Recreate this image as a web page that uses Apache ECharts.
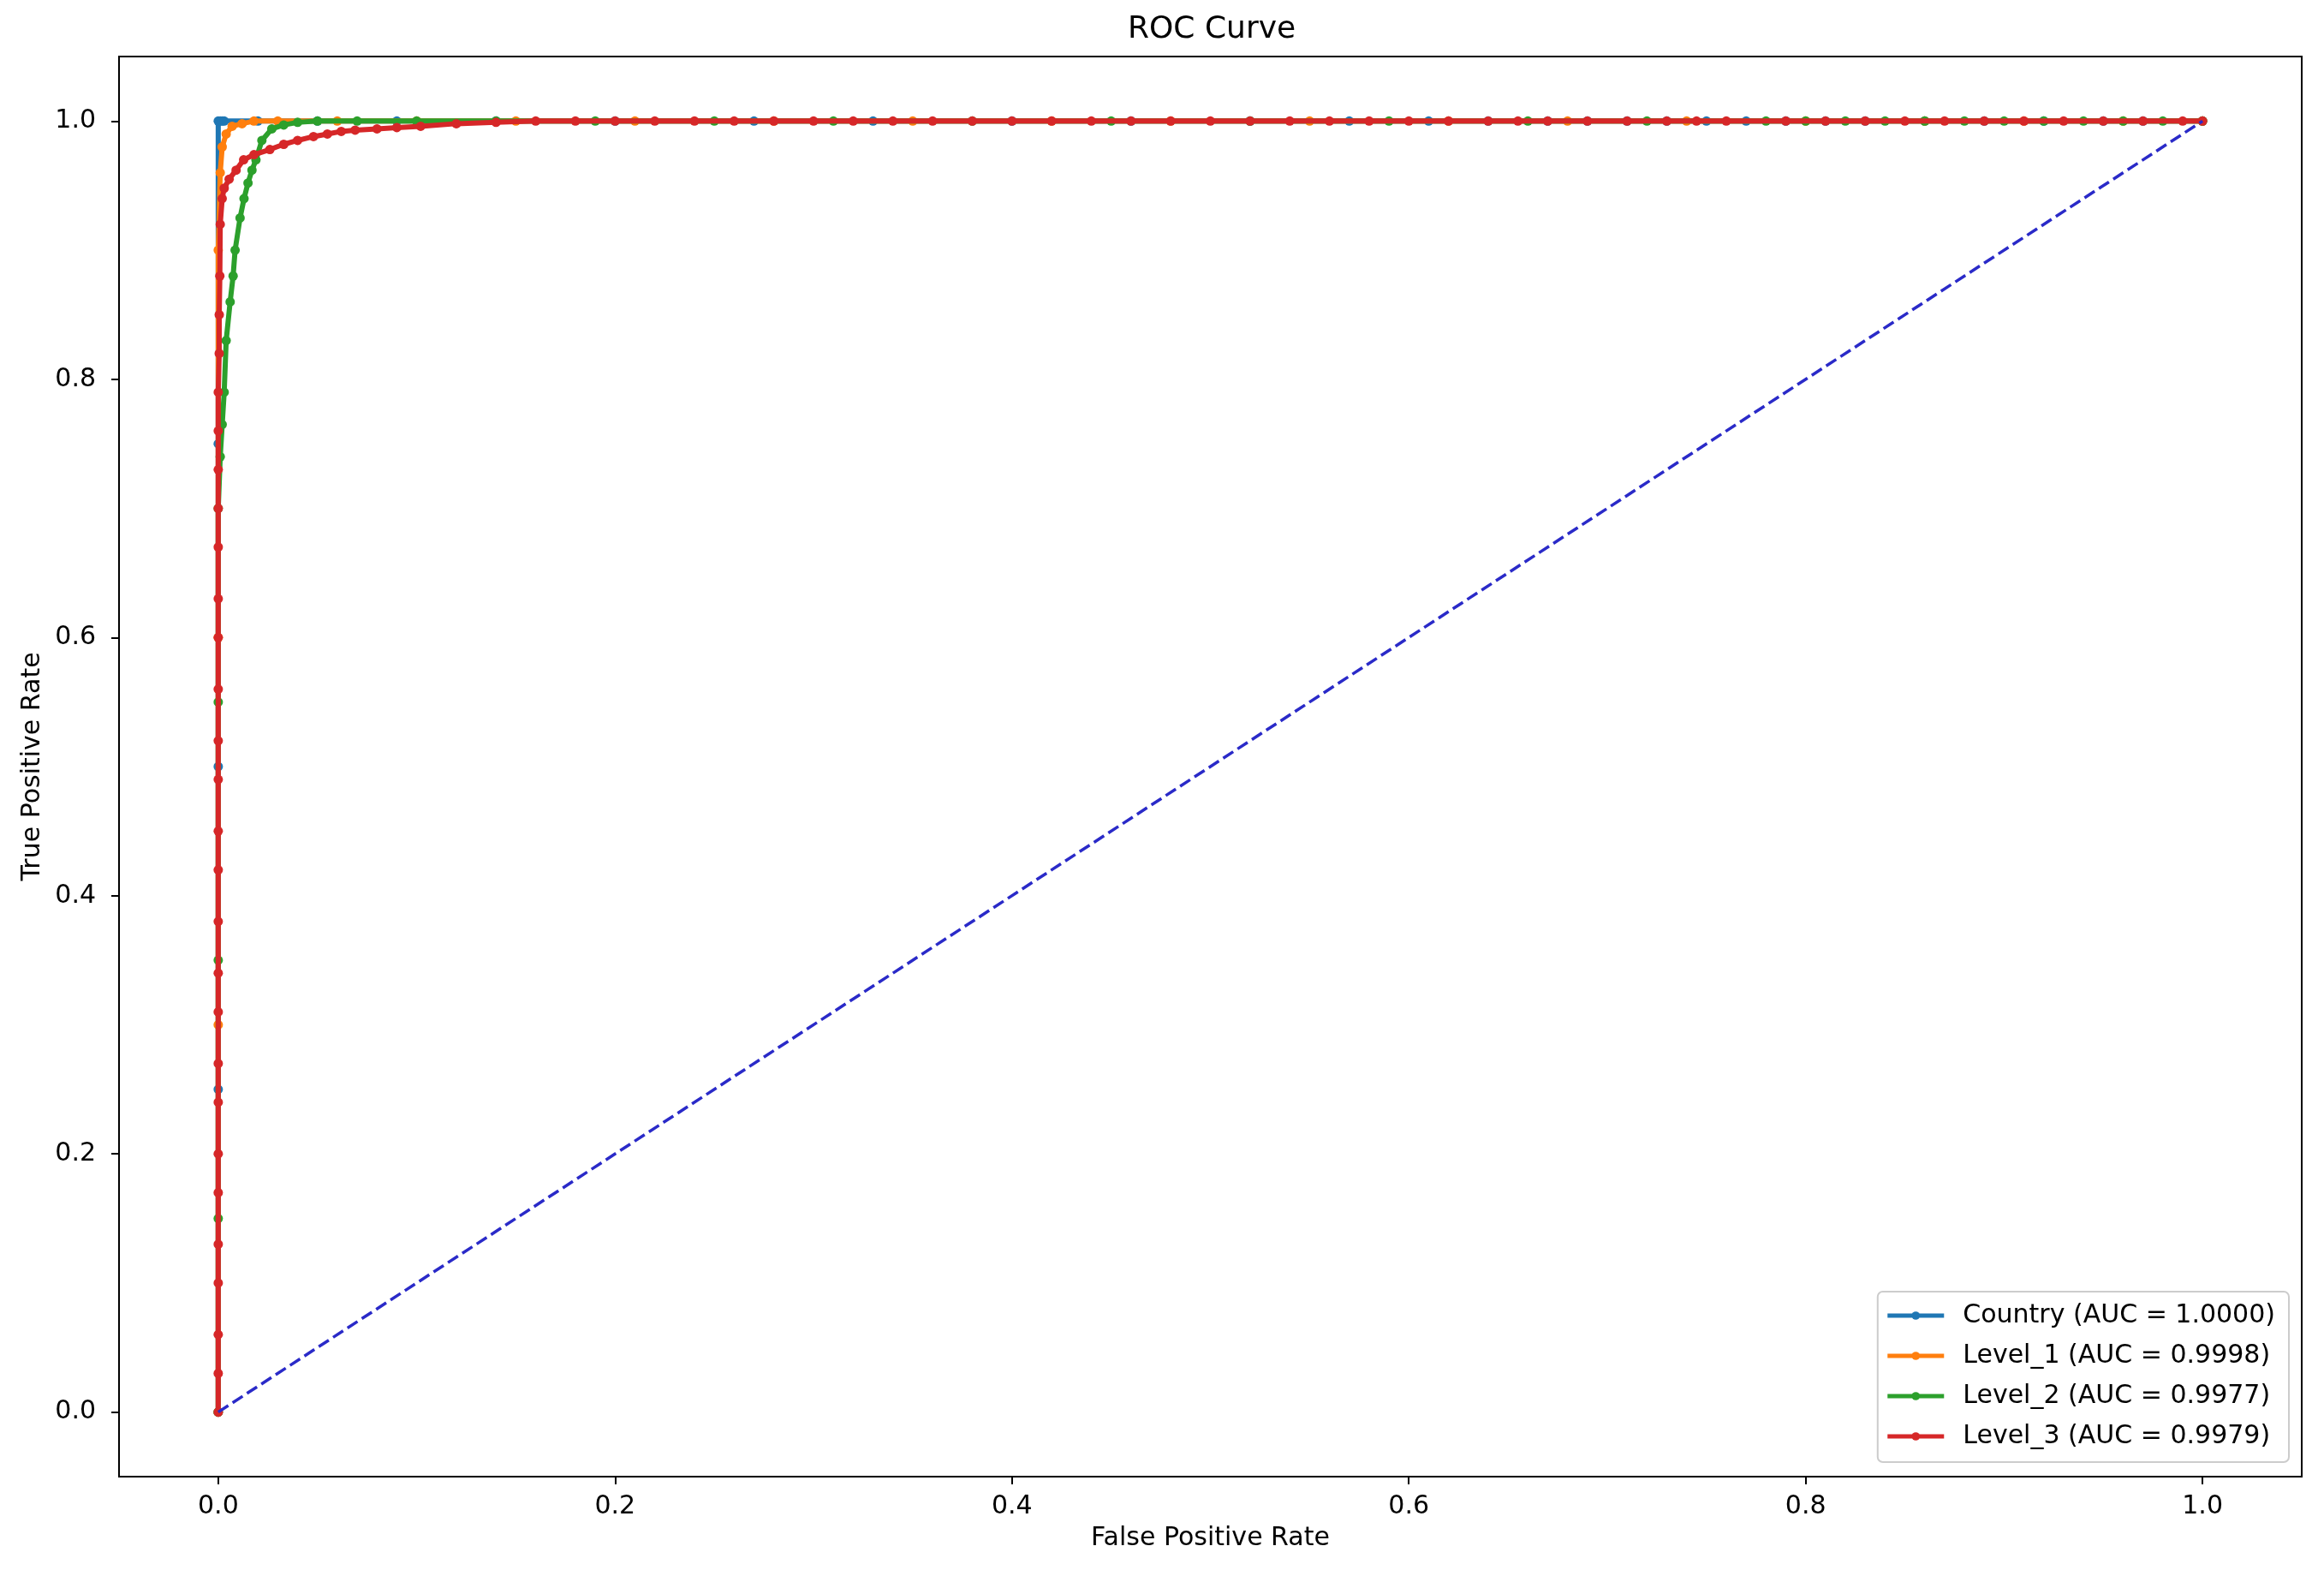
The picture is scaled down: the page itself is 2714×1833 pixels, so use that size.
<!DOCTYPE html>
<html>
<head>
<meta charset="utf-8">
<script src="https://cdn.jsdelivr.net/npm/echarts@6/dist/echarts.min.js"></script>
<style>
  html, body { margin: 0; padding: 0; background: #fff; }
  #chart { width: 2714px; height: 1833px; }
</style>
</head>
<body>
<div id="chart"></div>
<script>
// ROC points (FPR, TPR)
const countryFpr = [0, 0, 0, 0, 0, 0.001, 0.002, 0.003, 0.02, 0.05, 0.09, 0.14, 0.2, 0.27, 0.33, 0.4, 0.46, 0.52, 0.57, 0.61, 0.64, 0.67, 0.69, 0.71, 0.73, 0.75, 0.77, 0.79, 0.81, 0.83, 0.86, 0.89, 0.92, 0.95, 0.97, 1.0];
const countryTpr = [0, 0.25, 0.5, 0.75, 1.0, 1.0, 1.0, 1.0, 1.0, 1.0, 1.0, 1.0, 1.0, 1.0, 1.0, 1.0, 1.0, 1.0, 1.0, 1.0, 1.0, 1.0, 1.0, 1.0, 1.0, 1.0, 1.0, 1.0, 1.0, 1.0, 1.0, 1.0, 1.0, 1.0, 1.0, 1.0];

const level1Fpr = [0, 0, 0, 0, 0.001, 0.002, 0.004, 0.007, 0.012, 0.018, 0.03, 0.06, 0.1, 0.15, 0.21, 0.28, 0.35, 0.42, 0.48, 0.55, 0.62, 0.68, 0.74, 0.8, 0.86, 0.91, 0.96, 1.0];
const level1Tpr = [0, 0.3, 0.6, 0.9, 0.96, 0.98, 0.99, 0.996, 0.998, 1.0, 1.0, 1.0, 1.0, 1.0, 1.0, 1.0, 1.0, 1.0, 1.0, 1.0, 1.0, 1.0, 1.0, 1.0, 1.0, 1.0, 1.0, 1.0];

const level2Fpr = [0, 0, 0, 0, 0, 0.001, 0.002, 0.003, 0.004, 0.006, 0.0075, 0.0085, 0.011, 0.013, 0.015, 0.017, 0.019, 0.022, 0.027, 0.033, 0.04, 0.05, 0.07, 0.1, 0.14, 0.19, 0.25, 0.31, 0.38, 0.45, 0.52, 0.59, 0.66, 0.72, 0.78, 0.8, 0.82, 0.84, 0.86, 0.88, 0.9, 0.92, 0.94, 0.96, 0.98, 1.0];
const level2Tpr = [0, 0.15, 0.35, 0.55, 0.7, 0.74, 0.765, 0.79, 0.83, 0.86, 0.88, 0.9, 0.925, 0.94, 0.952, 0.962, 0.97, 0.985, 0.994, 0.997, 0.999, 1.0, 1.0, 1.0, 1.0, 1.0, 1.0, 1.0, 1.0, 1.0, 1.0, 1.0, 1.0, 1.0, 1.0, 1.0, 1.0, 1.0, 1.0, 1.0, 1.0, 1.0, 1.0, 1.0, 1.0, 1.0];

const level3Fpr = [0, 0, 0, 0, 0, 0, 0, 0, 0, 0, 0, 0, 0, 0, 0, 0, 0, 0, 0, 0, 0, 0, 0, 0, 0.0005, 0.0005, 0.0008, 0.001, 0.002, 0.003, 0.0055, 0.009, 0.0128, 0.018, 0.026, 0.033, 0.04, 0.048, 0.055, 0.062, 0.069, 0.08, 0.09, 0.102, 0.12, 0.14, 0.16, 0.18, 0.2, 0.22, 0.24, 0.26, 0.28, 0.3, 0.32, 0.34, 0.36, 0.38, 0.4, 0.42, 0.44, 0.46, 0.48, 0.5, 0.52, 0.54, 0.56, 0.58, 0.6, 0.62, 0.64, 0.655, 0.67, 0.69, 0.71, 0.73, 0.745, 0.76, 0.79, 0.81, 0.83, 0.85, 0.87, 0.89, 0.91, 0.93, 0.95, 0.97, 0.99, 1.0];
const level3Tpr = [0, 0.03, 0.06, 0.1, 0.13, 0.17, 0.2, 0.24, 0.27, 0.31, 0.34, 0.38, 0.42, 0.45, 0.49, 0.52, 0.56, 0.6, 0.63, 0.67, 0.7, 0.73, 0.76, 0.79, 0.82, 0.85, 0.88, 0.92, 0.94, 0.948, 0.955, 0.962, 0.97, 0.974, 0.978, 0.982, 0.985, 0.988, 0.99, 0.992, 0.993, 0.994, 0.995, 0.996, 0.998, 0.999, 1.0, 1.0, 1.0, 1.0, 1.0, 1.0, 1.0, 1.0, 1.0, 1.0, 1.0, 1.0, 1.0, 1.0, 1.0, 1.0, 1.0, 1.0, 1.0, 1.0, 1.0, 1.0, 1.0, 1.0, 1.0, 1.0, 1.0, 1.0, 1.0, 1.0, 1.0, 1.0, 1.0, 1.0, 1.0, 1.0, 1.0, 1.0, 1.0, 1.0, 1.0, 1.0, 1.0, 1.0];

const seriesNames = ['Country (AUC = 1.0000)', 'Level_1 (AUC = 0.9998)', 'Level_2 (AUC = 0.9977)', 'Level_3 (AUC = 0.9979)'];
const seriesColors = ['#1f77b4', '#ff7f0e', '#2ca02c', '#d62728'];
const seriesFpr = [countryFpr, level1Fpr, level2Fpr, level3Fpr];
const seriesTpr = [countryTpr, level1Tpr, level2Tpr, level3Tpr];

const chanceLine = [[0, 0], [1, 1]];
const tickValues = [0, 0.2, 0.4, 0.6, 0.8, 1.0];

const FONT = 'DejaVu Sans';

const zip = (xs, ys) => xs.map((x, i) => [x, ys[i]]);

const rocSeries = seriesNames.map((name, i) => ({
  name,
  type: 'line',
  data: zip(seriesFpr[i], seriesTpr[i]),
  color: seriesColors[i],
  lineStyle: { width: 6, color: seriesColors[i] },
  itemStyle: { color: seriesColors[i] },
  symbol: 'circle',
  symbolSize: 11,
  showSymbol: true,
  showAllSymbol: true,
  z: 3 + i,
}));

const chanceSeries = {
  name: 'chance',
  type: 'line',
  data: chanceLine,
  symbol: 'none',
  lineStyle: { color: '#2a2ac8', width: 3.5, type: [14, 6] },
  z: 10,
};

const axisCommon = {
  type: 'value',
  min: -0.05,
  max: 1.05,
  splitLine: { show: false },
  axisLine: { show: true, onZero: false, lineStyle: { color: '#000', width: 2 } },
  axisTick: { show: true, length: 9, customValues: tickValues, lineStyle: { color: '#000', width: 2 } },
  nameLocation: 'middle',
  nameTextStyle: { fontFamily: FONT, fontSize: 30, color: '#000' },
};

const chart = echarts.init(document.getElementById('chart'));
chart.setOption({
  animation: false,
  backgroundColor: '#fff',
  title: {
    text: 'ROC Curve',
    left: 1312,
    top: 12,
    textStyle: { fontFamily: FONT, fontSize: 36, fontWeight: 'normal', color: '#000' },
  },
  grid: {
    left: 139,
    right: 26,
    top: 66,
    bottom: 109,
    show: true,
    borderColor: '#000',
    borderWidth: 2,
    backgroundColor: 'transparent',
  },
  legend: {
    data: seriesNames,
    orient: 'vertical',
    right: 41,
    bottom: 126,
    itemWidth: 66,
    itemHeight: 12,
    itemGap: 17,
    padding: [13, 16, 15, 9],
    backgroundColor: 'rgba(255,255,255,0.8)',
    borderColor: '#cccccc',
    borderWidth: 2,
    borderRadius: 6,
    lineStyle: { width: 5 },
    textStyle: { fontFamily: FONT, fontSize: 30, color: '#000', padding: [0, 0, 0, 17] },
  },
  xAxis: {
    ...axisCommon,
    name: 'False Positive Rate',
    nameGap: 57,
    axisLabel: {
      customValues: tickValues,
      margin: 20,
      fontFamily: FONT,
      fontSize: 30,
      color: '#000',
      formatter: (v) => v.toFixed(1),
    },
  },
  yAxis: {
    ...axisCommon,
    name: 'True Positive Rate',
    nameGap: 86,
    axisLabel: {
      customValues: tickValues,
      margin: 27,
      fontFamily: FONT,
      fontSize: 30,
      color: '#000',
      formatter: (v) => v.toFixed(1),
    },
  },
  series: [...rocSeries, chanceSeries],
});
</script>
</body>
</html>
